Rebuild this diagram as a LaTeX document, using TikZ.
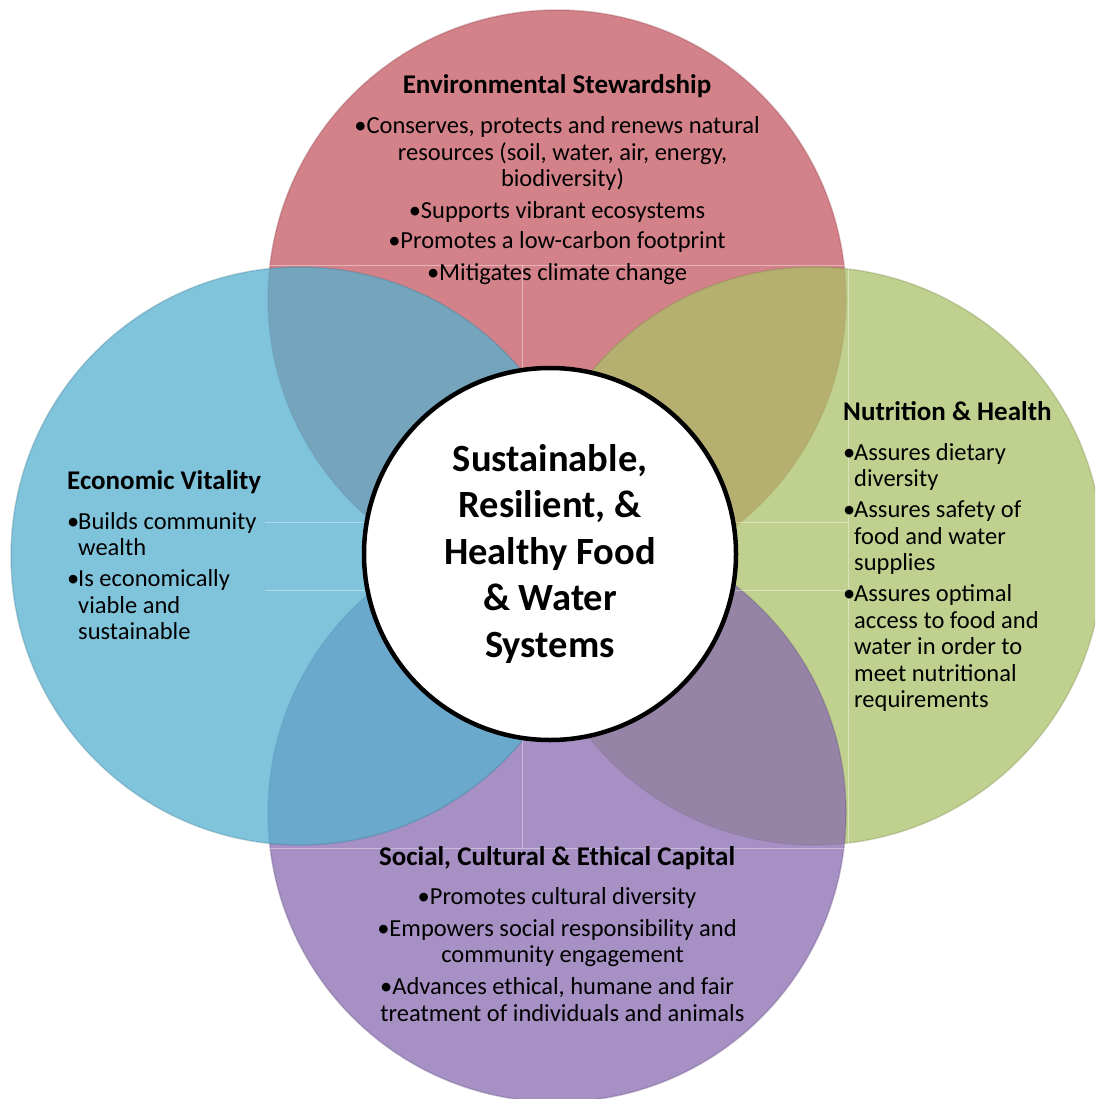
\documentclass[tikz,border=0pt]{standalone}
\usepackage{fontspec}
\setmainfont{Carlito}

\definecolor{envred}{RGB}{198,88,98}
\definecolor{econblue}{RGB}{86,176,208}
\definecolor{nutrgreen}{RGB}{171,192,104}
\definecolor{socpurple}{RGB}{136,107,176}

\tikzset{
  petal/.style={circle, minimum size=578pt, inner sep=0pt, fill opacity=.75,
    draw opacity=.3, line width=1.5pt},
  gridline/.style={draw=white, draw opacity=.4, line width=.8pt},
  blurb/.style={font=\fontsize{24.5}{26.5}\selectfont, inner sep=0pt, align=center},
  sideblurb/.style={blurb, align=left, anchor=north west},
}
\newlength\itmw
\setlength\itmw{11pt}
\newcommand{\itm}{\makebox[\itmw][l]{•}}
\newcommand{\ind}{\hspace*{\itmw}}
\newcommand{\ttl}[1]{{\fontsize{27}{26.5}\selectfont\bfseries #1}}

\begin{document}
\begin{tikzpicture}[x=1pt, y=-1pt]
  \clip (0,0) rectangle (1095,1099);
  % 4 big circles: top, right, bottom, left
  \node[petal, fill=envred, draw=envred!70!black] (envc) at (557,299) {};
  \node[petal, fill=nutrgreen, draw=nutrgreen!70!black] (nutrc) at (814,556) {};
  \node[petal, fill=socpurple, draw=socpurple!70!black] (socc) at (557,813) {};
  \node[petal, fill=econblue, draw=econblue!70!black] (econc) at (300,556) {};

  % thin lines of the frame behind the centre
  \draw[gridline] (268,265) -- (848,265) -- (848,848) -- (268,848);
  \draw[gridline] (522,265) -- (522,848);
  \draw[gridline] (265,522) -- (848,522);
  \draw[gridline] (265,590) -- (848,590);

  % centre circle
  \node[circle, draw=black, line width=4.5pt, fill=white, minimum size=372pt,
    font=\bfseries\fontsize{38.5}{46.5}\selectfont, align=center] (core) at (550,554)
    {Sustainable,\\Resilient, \&\\Healthy Food\\\& Water\\Systems};

  % text of each circle
  \node[blurb, anchor=north] (env) at (557,74) {\ttl{Environmental Stewardship}\\[14pt]
    •Conserves, protects and renews natural\\
    \ind resources (soil, water, air, energy,\\
    \ind biodiversity)\\[5pt]
    •Supports vibrant ecosystems\\[4pt]
    •Promotes a low-carbon footprint\\[5pt]
    •Mitigates climate change};
  \node[sideblurb] (econ) at (67,470) {\ttl{Economic Vitality}\\[13.5pt]
    \itm Builds community\\
    \ind wealth\\[4.5pt]
    \itm Is economically\\
    \ind viable and\\
    \ind sustainable};
  \node[sideblurb] (nutr) at (843,401) {\ttl{Nutrition \& Health}\\[13.5pt]
    \itm Assures dietary\\
    \ind diversity\\[4.5pt]
    \itm Assures safety of\\
    \ind food and water\\
    \ind supplies\\[4.5pt]
    \itm Assures optimal\\
    \ind access to food and\\
    \ind water in order to\\
    \ind meet nutritional\\
    \ind requirements};
  \node[blurb, anchor=north] (soc) at (557,846) {\ttl{Social, Cultural \& Ethical Capital}\\[12.5pt]
    •Promotes cultural diversity\\[5.5pt]
    •Empowers social responsibility and\\
    \ind community engagement\\[5.5pt]
    •Advances ethical, humane and fair\\
    \ind treatment of individuals and animals};
\end{tikzpicture}
\end{document}
